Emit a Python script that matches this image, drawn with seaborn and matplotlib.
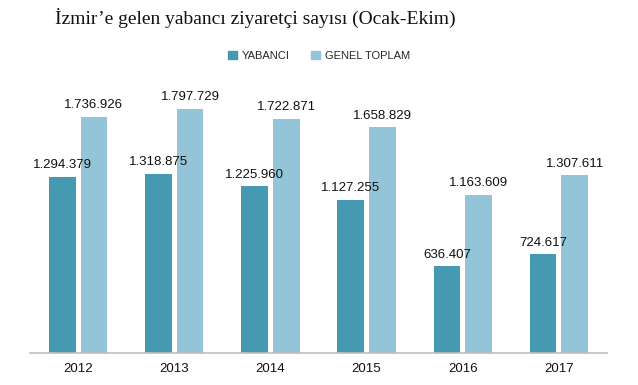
import matplotlib.pyplot as plt
import pandas as pd
import seaborn as sns

# values
years = ["2012", "2013", "2014", "2015", "2016", "2017"]
yabanci = [1294379, 1318875, 1225960, 1127255, 636407, 724617]
genel_toplam = [1736926, 1797729, 1722871, 1658829, 1163609, 1307611]
series_names = ["YABANCI", "GENEL TOPLAM"]
colors = ["#4599b0", "#93c4d7"]

df = pd.DataFrame({
    "year": years * 2,
    "series": [series_names[0]] * len(years) + [series_names[1]] * len(years),
    "value": yabanci + genel_toplam,
})

sns.set_style("white")
plt.rcParams["font.family"] = ["Liberation Sans", "DejaVu Sans"]

fig = plt.figure(figsize=(6.38, 3.85), dpi=100)
ax = fig.add_axes([30 / 638, 32 / 385, 577 / 638, 272 / 385])

sns.barplot(
    data=df, x="year", y="value", hue="series",
    palette=colors, width=0.66, gap=0.16, ax=ax, legend=False,
    saturation=1, linewidth=0,
)

for container in ax.containers:
    labels = [f"{v:,.0f}".replace(",", ".") for v in container.datavalues]
    ax.bar_label(container, labels=labels, padding=4, fontsize=9.5, color="#111111")

ax.set_ylim(0, 2000000)
ax.set_xlim(-0.5, 5.5)
ax.set_xlabel("")
ax.set_ylabel("")
ax.set_yticks([])
ax.tick_params(axis="x", length=0, pad=7, labelsize=9.5, colors="#111111")
for side in ["top", "left", "right"]:
    ax.spines[side].set_visible(False)
ax.spines["bottom"].set_color("#bfbfbf")
ax.spines["bottom"].set_linewidth(1.2)

handles = [plt.Rectangle((0, 0), 1, 1, color=c) for c in colors]
fig.legend(
    handles, series_names, loc="center", bbox_to_anchor=(0.5, 1 - 56 / 385),
    ncol=2, frameon=False, fontsize=8, handlelength=0.8, handleheight=0.8,
    columnspacing=2.0, handletextpad=0.4,
)

fig.text(
    55 / 638, 1 - 18 / 385, "İzmir’e gelen yabancı ziyaretçi sayısı (Ocak-Ekim)",
    family=["Liberation Serif", "DejaVu Serif"], fontsize=14, va="center",
    ha="left", color="#111111",
)

fig.savefig("out.png", dpi=100)
plt.close(fig)
